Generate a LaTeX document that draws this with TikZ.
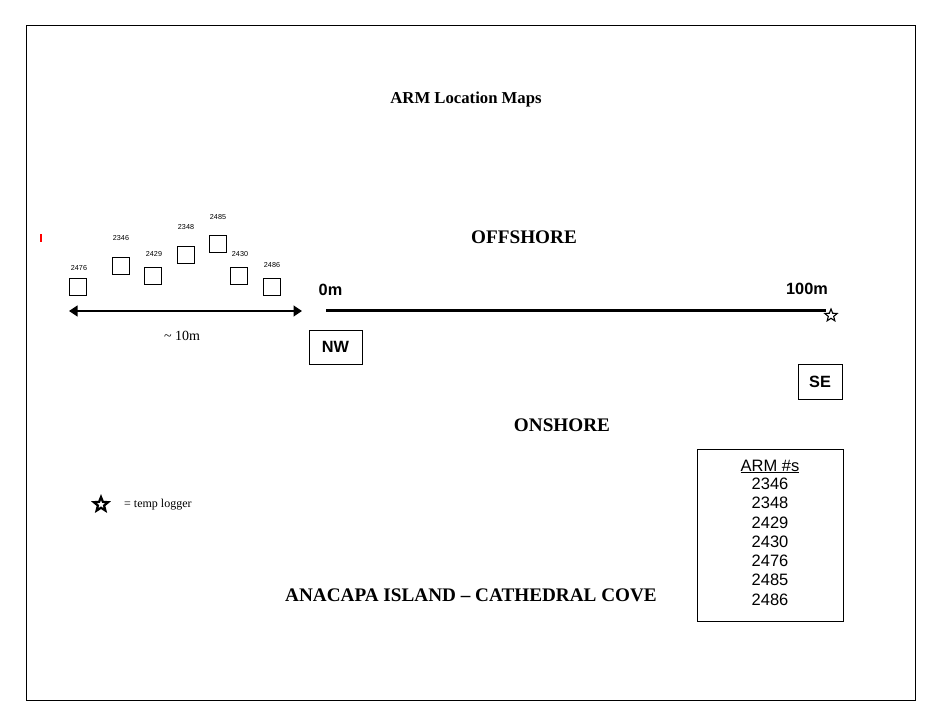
\documentclass[tikz,border=0pt]{standalone}
\usepackage{fontspec}
\setmainfont{Liberation Serif}
\setsansfont{Liberation Sans}
\usetikzlibrary{shapes.geometric, arrows.meta}

\tikzset{
  armsq/.style={draw, line width=0.9pt, minimum size=17.5pt, inner sep=0pt},
  armid/.style={font=\sffamily\fontsize{7.2}{8}\selectfont, inner sep=0pt, anchor=base},
  heading/.style={font=\bfseries\fontsize{19.2}{21}\selectfont, inner sep=0pt, anchor=base},
  dist/.style={font=\sffamily\bfseries\fontsize{16.3}{18}\selectfont, inner sep=0pt, anchor=base},
  dirbox/.style={draw, line width=0.9pt, font=\sffamily\bfseries\fontsize{16.3}{18}\selectfont, inner sep=0pt},
  listline/.style={font=\sffamily\fontsize{16.5}{18}\selectfont, inner sep=0pt, anchor=base},
  logger/.style={star, star points=5, star point ratio=2.3, draw, fill=white, inner sep=0pt}
}

\begin{document}
\begin{tikzpicture}[x=1pt, y=-1pt]
\useasboundingbox (0,0) rectangle (945,727);
\fill[white] (0,0) rectangle (945,727);

% page frame
\draw[line width=1pt] (26,26) rectangle (915,700);

% title
\node[font=\bfseries\fontsize{16.7}{18}\selectfont, inner sep=0pt, anchor=base] (title) at (466,104) {ARM Location Maps};

% stray red mark
\draw[red, line width=1.3pt] (41,234.5) -- (41,242.5);

% ARM squares and their numbers
\node[armsq] (s2476) at (78,287) {};
\node[armsq] (s2346) at (121,266) {};
\node[armsq] (s2429) at (153,276) {};
\node[armsq] (s2348) at (186,255) {};
\node[armsq] (s2485) at (218,244) {};
\node[armsq] (s2430) at (239,276) {};
\node[armsq] (s2486) at (272,287) {};

\node[armid] (t2476) at (79,271) {2476};
\node[armid] (t2346) at (121,241) {2346};
\node[armid] (t2429) at (154,257) {2429};
\node[armid] (t2348) at (186,230) {2348};
\node[armid] (t2485) at (218,220) {2485};
\node[armid] (t2430) at (240,257) {2430};
\node[armid] (t2486) at (272,268) {2486};

% ~10 m span
\coordinate (spanL) at (69,311);
\coordinate (spanR) at (302,311);
\draw[line width=1.3pt, {Triangle[length=8.5pt,width=11pt]}-{Triangle[length=8.5pt,width=11pt]}] (spanL) -- (spanR);
\node[font=\fontsize{14}{16}\selectfont, inner sep=0pt, anchor=base] (spanlbl) at (182,340) {\textasciitilde{} 10m};

% transect line
\node[logger, minimum size=13pt, line width=1.1pt] (tl) at (831,315.5) {};
\coordinate (t0) at (326,311);
\draw[line width=3pt] (t0) -- (tl.west |- t0);
\node[dist] (lbl0) at (330.5,296) {0m};
\node[dist] (lbl100) at (807,295) {100m};

% direction boxes
\node[dirbox, minimum width=53pt, minimum height=34pt] (nw) at (335.5,347) {NW};
\node[dirbox, minimum width=44pt, minimum height=35pt] (se) at (820,381.5) {SE};

% offshore / onshore headings
\node[heading] (off) at (524,244) {OFFSHORE};
\node[heading] (on) at (562,431) {ONSHORE};
\node[heading] (site) at (471,601) {ANACAPA ISLAND -- CATHEDRAL COVE};

% legend
\node[logger, minimum size=15pt, line width=2.2pt] (legstar) at (101,504.5) {};
\node[font=\fontsize{12}{14}\selectfont, inner sep=0pt, anchor=base west] (leglbl) at (124,507) {= temp logger};

% list of ARM numbers
\node[draw, line width=0.9pt, minimum width=146pt, minimum height=172pt, anchor=north west, inner sep=0pt] (armbox) at (697,449) {};
\node[listline] (hdr) at (770,471) {\underline{ARM \#s}};
\node[listline] (n1) at (770,489) {2346};
\node[listline] (n2) at (770,508) {2348};
\node[listline] (n3) at (770,528) {2429};
\node[listline] (n4) at (770,547) {2430};
\node[listline] (n5) at (770,566) {2476};
\node[listline] (n6) at (770,585) {2485};
\node[listline] (n7) at (770,605) {2486};
\end{tikzpicture}
\end{document}
